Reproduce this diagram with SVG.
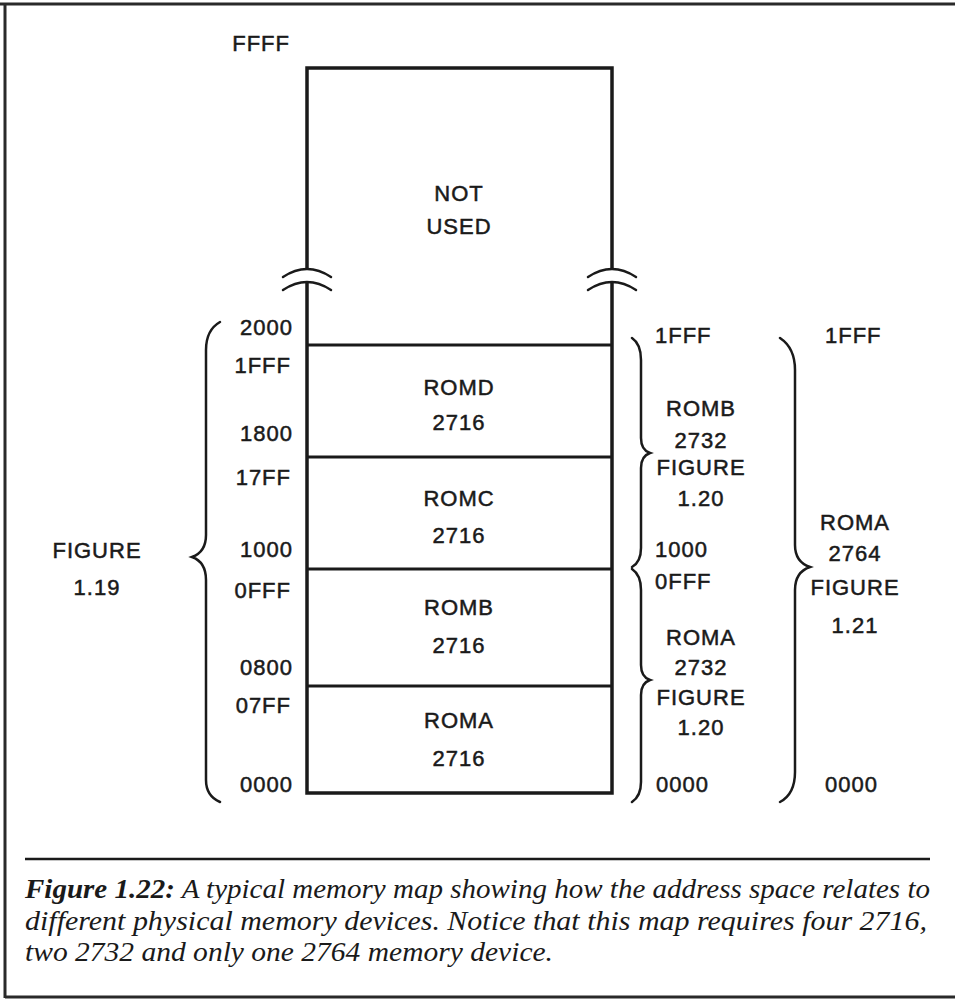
<svg xmlns="http://www.w3.org/2000/svg" width="955" height="1000" viewBox="0 0 955 1000">
<style>
.t{font-family:"Liberation Sans",Arial,sans-serif;font-size:22px;letter-spacing:1px;fill:#1a1a1a;stroke:#1a1a1a;stroke-width:0.5}
.c{text-anchor:middle}
.e{text-anchor:end}
.box{fill:none;stroke:#1a1a1a;stroke-width:3.5}
.ln{stroke:#1a1a1a;stroke-width:3}
.br{fill:none;stroke:#1a1a1a;stroke-width:2.5;stroke-linecap:round}
.cap{font-family:"Liberation Serif","Times New Roman",serif;font-style:italic;font-size:27px;fill:#1a1a1a}
</style>
<rect width="955" height="1000" fill="#ffffff"/>
<g id="frame">
<path d="M0,4 H955 M5,4 V998 M5,997 H955" fill="none" stroke="#2a2a2a" stroke-width="3"/>
</g>
<g id="memory-box">
<path class="box" d="M307,270 V68 H612 V270"/>
<path class="box" d="M307,283 V793 H612 V283"/>
<path class="br" d="M283,277 Q307,261 331,277 M283,290 Q307,274 331,290" stroke-width="3"/>
<path class="br" d="M588,277 Q612,261 636,277 M588,290 Q612,274 636,290" stroke-width="3"/>
</g>
<g id="not-used">
<text class="t c" x="459" y="201">NOT</text>
<text class="t c" x="459" y="234">USED</text>
</g>
<g id="romd">
<line class="ln" x1="307" y1="345" x2="612" y2="345"/>
<text class="t c" x="459" y="395">ROMD</text>
<text class="t c" x="459" y="430">2716</text>
</g>
<g id="romc">
<line class="ln" x1="307" y1="457" x2="612" y2="457"/>
<text class="t c" x="459" y="506">ROMC</text>
<text class="t c" x="459" y="543">2716</text>
</g>
<g id="romb">
<line class="ln" x1="307" y1="569" x2="612" y2="569"/>
<text class="t c" x="459" y="615">ROMB</text>
<text class="t c" x="459" y="653">2716</text>
</g>
<g id="roma">
<line class="ln" x1="307" y1="686" x2="612" y2="686"/>
<text class="t c" x="459" y="728">ROMA</text>
<text class="t c" x="459" y="766">2716</text>
</g>
<g id="left-addresses">
<text class="t e" x="290" y="51">FFFF</text>
<text class="t e" x="293" y="335">2000</text>
<text class="t e" x="291" y="373">1FFF</text>
<text class="t e" x="293" y="441">1800</text>
<text class="t e" x="291" y="485">17FF</text>
<text class="t e" x="293" y="557">1000</text>
<text class="t e" x="291" y="598">0FFF</text>
<text class="t e" x="293" y="675">0800</text>
<text class="t e" x="291" y="713">07FF</text>
<text class="t e" x="293" y="792">0000</text>
</g>
<g id="fig-1-19">
<path class="br" d="M220,322 Q206,330 206,350 L206,535 Q206,552 192,557 Q206,562 206,580 L206,780 Q206,796 220,802"/>
<text class="t c" x="97" y="558">FIGURE</text>
<text class="t c" x="97" y="595">1.19</text>
</g>
<g id="fig-1-20-romb">
<path class="br" d="M632,338 Q641,344 641,360 L641,438 Q641,450 650,453 Q641,456 641,468 L641,548 Q641,562 632,567"/>
<text class="t" x="655" y="343">1FFF</text>
<text class="t c" x="701" y="416">ROMB</text>
<text class="t c" x="701" y="448">2732</text>
<text class="t c" x="701" y="475">FIGURE</text>
<text class="t c" x="701" y="506">1.20</text>
<text class="t" x="655" y="557">1000</text>
</g>
<g id="fig-1-20-roma">
<path class="br" d="M632,569 Q641,575 641,590 L641,665 Q641,677 650,680 Q641,683 641,695 L641,782 Q641,796 632,802"/>
<text class="t" x="655" y="589">0FFF</text>
<text class="t c" x="701" y="645">ROMA</text>
<text class="t c" x="701" y="675">2732</text>
<text class="t c" x="701" y="705">FIGURE</text>
<text class="t c" x="701" y="735">1.20</text>
<text class="t" x="656" y="792">0000</text>
</g>
<g id="fig-1-21">
<path class="br" d="M780,338 Q795,348 795,370 L795,545 Q795,562 810,567 Q795,572 795,590 L795,772 Q795,794 780,802"/>
<text class="t" x="825" y="343">1FFF</text>
<text class="t c" x="855" y="530">ROMA</text>
<text class="t c" x="855" y="561">2764</text>
<text class="t c" x="855" y="595">FIGURE</text>
<text class="t c" x="855" y="633">1.21</text>
<text class="t" x="825" y="792">0000</text>
</g>
<g id="caption">
<line x1="25" y1="859" x2="930" y2="859" stroke="#1a1a1a" stroke-width="2.5"/>
<text class="cap" x="25" y="898" textLength="905" lengthAdjust="spacingAndGlyphs"><tspan font-weight="bold">Figure 1.22:</tspan> A typical memory map showing how the address space relates to</text>
<text class="cap" x="25" y="930" textLength="902" lengthAdjust="spacingAndGlyphs">different physical memory devices. Notice that this map requires four 2716,</text>
<text class="cap" x="25" y="961" textLength="528" lengthAdjust="spacingAndGlyphs">two 2732 and only one 2764 memory device.</text>
</g>
</svg>
